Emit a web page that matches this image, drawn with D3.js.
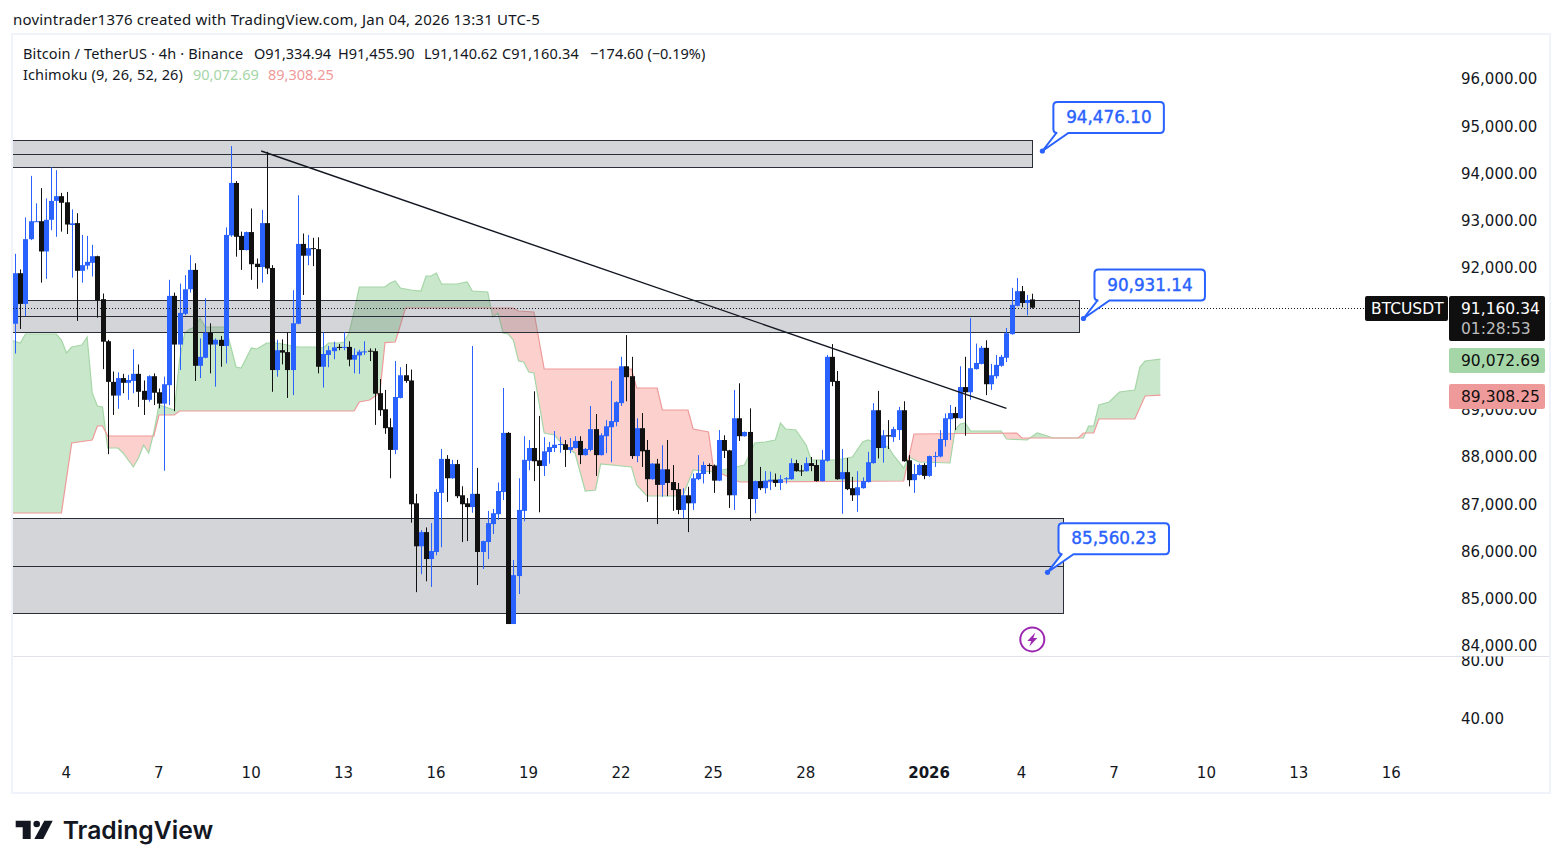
<!DOCTYPE html>
<html>
<head>
<meta charset="utf-8">
<script src="https://cdn.jsdelivr.net/npm/d3@7"></script>
<style>
  html, body { margin: 0; padding: 0; background: #fff; }
  svg { display: block; }
  text { font-family: "DejaVu Sans", sans-serif; fill: #131722; }
  .cond { font-family: "Noto Sans", sans-serif; }
</style>
</head>
<body>
<svg id="chart" width="1563" height="868"></svg>
<script>
// 4h candles, first one sits 10 bars before Dec 4 00:00
const opens = [
  90820,91890,91240,92610,92980,92990,92350,93020,93420,93520,
  93390,92910,92950,91940,92050,92110,92250,91340,90450,89590,
  89300,89670,89570,89610,89760,89400,89210,89710,89370,89130,
  89520,91410,90380,91030,91550,91960,89930,90100,90630,90380,
  90480,90350,92690,93800,92680,92380,92760,92090,92020,92950,
  92000,89840,90260,90220,89840,90820,92510,92260,92420,92400,
  89910,90160,90240,90330,90320,90330,90060,90150,90220,90250,
  90240,89350,89010,88630,88150,89250,89730,89620,87020,86110,
  86410,85840,85990,87240,87960,87550,87850,87190,87020,86940,
  87220,85990,86200,86580,86790,87260,88510,84465,85480,86860,
  87920,88190,87930,87810,88105,88190,88260,88270,88150,88190,
  88340,88040,88150,88590,88040,88440,88630,88740,89140,89920,
  89710,88020,88610,88150,87530,87860,87410,87740,87470,87320,
  86880,87190,87020,87530,87640,87830,87820,87500,88360,88140,
  87190,88820,88440,88530,87110,87490,87340,87480,87520,87450,
  87530,87530,87870,87715,87700,87870,87830,87490,87920,90120,
  89610,87530,87680,87340,87190,87340,87470,87870,88990,88190,
  88460,88420,88570,88990,87930,87510,87620,87830,87600,88010,
  88010,88360,88800,88930,88820,89480,89370,89860,89970,90310,
  89540,89710,89930,90100,90600,91200,91510,91260,91334.94
];
const highs = [
  92300,91970,93070,93950,93370,93690,93470,94130,94070,93590,
  93610,93240,93160,92700,92680,92490,92260,91460,90480,89810,
  89790,89760,89740,90280,89960,89620,89730,89770,89450,89700,
  91750,91480,91670,91850,92270,92100,90510,91360,90830,90510,
  90560,92860,94580,93840,92770,92770,93260,92200,93230,94460,
  92060,90480,90490,90640,91530,93540,92730,92700,92640,92650,
  90640,90350,90440,90390,90640,90450,90300,90270,90450,90300,
  90300,89650,89420,88820,90030,89900,89970,89850,87220,86450,
  86510,86600,87320,88170,88040,87940,87940,87380,87130,90350,
  87770,86230,86860,86900,87460,89460,88530,85820,87550,88440,
  88360,89390,88870,88420,88320,88550,88430,88360,88400,88440,
  88440,88190,89080,88910,88500,88780,89610,89180,90120,90580,
  90120,88820,88930,88360,87870,87960,88250,88360,87830,87450,
  87340,87370,87650,88040,87900,87865,87840,88570,88460,88150,
  89420,89560,88540,89030,87500,87790,87700,87690,87650,87620,
  87575,87970,87940,87830,87990,88000,87940,88150,90160,90390,
  89820,88170,87980,87580,87700,87570,88110,89140,89400,88570,
  88780,88640,89060,89180,88040,87850,87860,87870,88030,88110,
  88570,88920,89100,89060,89920,90120,90940,90400,90350,90470,
  89970,90160,90160,90730,91580,91790,91620,91430,91455.90
];
const lows = [
  90190,90710,90980,92590,92980,91690,91770,92800,92660,92770,
  92720,91795,90880,91690,91970,91820,90950,89860,88060,88890,
  89020,89350,89210,89350,89060,88890,89170,89100,89030,87710,
  89100,88970,89840,91000,91480,89610,89670,90090,89770,89490,
  89910,89980,92660,92240,91960,92370,91750,91560,91690,91870,
  89380,89700,89960,89250,89310,90810,91430,92060,92040,89770,
  89470,89900,90070,90260,90260,89920,89770,89760,90160,90030,
  88680,88870,88490,87550,88060,89240,89570,86610,85140,85520,
  85370,85250,85920,86090,87050,87540,87130,86200,86220,86820,
  85290,85630,85840,86370,86670,87090,84465,84465,85100,86640,
  87720,87490,86830,87600,87860,88105,88090,87790,88080,88180,
  87850,88030,88120,87600,88030,88080,87890,88650,89080,89180,
  87960,87890,87790,87050,87520,86580,87160,87170,86860,86790,
  86710,86410,86880,87510,87440,87640,87240,87490,87980,86920,
  86880,88340,88430,86650,86810,87300,87230,87300,87370,87300,
  87440,87520,87690,87600,87690,87700,87480,87480,87900,89500,
  87520,86800,87300,87070,86840,87330,87460,87860,87970,87880,
  88170,88320,88360,87900,87380,87240,87610,87530,87580,87790,
  87990,88220,88360,88570,88810,88450,89210,89850,89960,89310,
  89420,89660,89910,90010,90590,91190,91170,91000,91140.62
];
const closes = [
  91890,91240,92610,92990,92990,92350,93020,93420,93520,93380,
  92920,92945,91940,92060,92130,92250,91320,90440,89590,89300,
  89670,89570,89630,89760,89380,89210,89710,89360,89130,89540,
  91410,90380,91050,91550,91960,89930,90120,90630,90380,90480,
  90350,92700,93800,92660,92380,92760,92080,92020,92950,91990,
  89840,90260,90210,89840,90830,92510,92260,92420,92410,89910,
  90180,90260,90320,90320,90330,90060,90160,90230,90235,90235,
  89340,88990,88610,88150,89270,89730,89610,87000,86110,86410,
  85840,86010,87260,87960,87550,87850,87170,87000,86940,87220,
  85990,86220,86600,86810,87280,88510,84465,85500,86880,87940,
  88190,87910,87810,88120,88210,88260,88275,88150,88210,88340,
  88040,88170,88590,88040,88460,88650,88760,89160,89920,89690,
  88020,88610,88120,87530,87860,87410,87740,87450,87300,86880,
  87190,87020,87550,87660,87830,87815,87500,88360,88130,87190,
  88820,88440,88530,87110,87490,87340,87500,87520,87450,87530,
  87550,87870,87700,87700,87870,87810,87490,87940,90120,89590,
  87530,87680,87320,87190,87360,87490,87890,88990,88190,88460,
  88435,88590,88990,87910,87510,87640,87830,87600,88020,88020,
  88380,88820,88930,88820,89480,89370,89880,89990,90310,89540,
  89730,89950,90120,90620,91220,91510,91260,91320,91160.34
];

// ichimoku spans, read at the bars where the lines bend
const spanAIdx = [-1,1,2,8,9,10,11,13,14,15,16,17,18,20,21,23,24,25,26,27,28,31,32,33,34,35,36,37,41,42,43,44,46,47,49,51,55,59,60,61,63,64,65,66,67,72,73,74,75,77,79,80,81,82,83,86,88,89,92,93,94,95,96,97,98,99,100,101,103,105,107,109,111,113,114,120,121,123,130,132,136,142,144,146,148,149,150,152,154,155,160,163,165,166,170,171,173,174,176,182,183,184,185,186,192,193,197,199,201,202,207,208,209,210,211,213,215,218,219,220,223];
const spanA = [90476,90413,90603,90603,90476,90201,90328,90370,90540,89355,89079,89058,88190,88190,88085,87788,87979,88254,88085,88529,89101,88995,90053,90624,90709,90751,90942,90751,90751,90328,89905,89884,90307,90286,90413,90413,90328,90328,90307,90413,90413,90434,90624,91080,91598,91598,91683,91725,91577,91534,91513,91831,91831,91894,91661,91661,91704,91513,91492,90963,91048,90624,90603,90476,90032,90011,89799,89778,88508,88466,88212,88085,87280,87302,87852,87788,87407,87175,87175,87725,87683,87831,88296,88318,88360,88720,88593,88571,88254,87937,87937,88000,88318,88360,88212,88042,87767,88000,87894,87873,88571,88699,88720,88550,88550,88381,88360,88508,88444,88402,88402,88402,88656,88656,89101,89164,89376,89418,89905,90032,90072.69];
const spanBIdx = [-1,9,11,15,16,17,18,27,28,31,32,66,67,69,71,72,74,76,97,98,101,103,120,121,125,126,131,132,135,136,141,173,175,195,196,207,208,210,211,218,220,223];
const spanB = [86815,86815,88296,88360,88656,88656,88444,88444,88889,88889,88974,88974,89164,89206,89355,90420,90434,91153,91153,91090,91069,89862,89862,89460,89460,88995,88995,88593,88529,87725,87471,87492,88487,88508,88402,88402,88508,88508,88804,88804,89291,89308.25];

// grey rectangles: top, middle, bottom price and the bar they end on
const boxTops = [94703, 91316, 86703];
const boxMids = [94406, 90978, 85700];
const boxBottoms = [94131, 90635, 84692];
const boxEnds = [198, 207.2, 204];

// trend line end points
const trendIdx = [47.9, 193];
const trendPrice = [94476, 89030];

// price callouts
const calloutIdx = [200, 208, 201];
const calloutPrice = [94476.10, 90931.14, 85560.23];

// 91,000 and 90,000 sit behind the price tags
const priceTicks = [96000,95000,94000,93000,92000,89000,88000,87000,86000,85000,84000];
const lowerTicks = [80, 40];
const dayOffsets = [0,3,6,9,12,15,18,21,24,28,31,34,37,40,43];
const dayLabels = ["4","7","10","13","16","19","22","25","28","2026","4","7","10","13","16"];

const lastPrice = 91160.34;
const spanALast = 90072.69;
const spanBLast = 89308.25;

const svg = d3.select("#chart");
const defs = svg.append("defs");

const x = d3.scaleLinear().domain([0, 198]).range([15.2, 1032.1]);
const y = d3.scaleLinear().domain([96000, 84000]).range([79, 646]);
const yLower = d3.scaleLinear().domain([80, 40]).range([660, 718]);

const blue = "#2962FF";
const black = "#111111";

// frame around the chart
svg.append("rect").attr("x", 12).attr("y", 34).attr("width", 1538).attr("height", 759)
  .attr("fill", "#fff").attr("stroke", "#F0F3FA").attr("stroke-width", 2);

defs.append("clipPath").attr("id", "pane").append("rect")
  .attr("x", 13).attr("y", 36).attr("width", 1352).attr("height", 620);
defs.append("clipPath").attr("id", "lowerPane").append("rect")
  .attr("x", 1380).attr("y", 656.5).attr("width", 170).attr("height", 130);

const pane = svg.append("g").attr("clip-path", "url(#pane)");

// cloud
const aPts = spanAIdx.map((d, i) => [x(d), y(spanA[i])]);
const bPts = spanBIdx.map((d, i) => [x(d), y(spanB[i])]);
const line = d3.line();
const first = bPts[0], last = bPts[bPts.length - 1];
defs.append("clipPath").attr("id", "aboveB").append("path")
  .attr("d", line(bPts) + `L${last[0]},0L${first[0]},0Z`);
defs.append("clipPath").attr("id", "belowB").append("path")
  .attr("d", line(bPts) + `L${last[0]},868L${first[0]},868Z`);

const cloudPath = line(aPts.concat(bPts.slice().reverse())) + "Z";
pane.append("g").attr("clip-path", "url(#aboveB)").append("path")
  .attr("d", cloudPath).attr("fill", "rgba(76,175,80,0.3)").attr("fill-rule", "evenodd");
pane.append("g").attr("clip-path", "url(#belowB)").append("path")
  .attr("d", cloudPath).attr("fill", "rgba(244,67,54,0.25)").attr("fill-rule", "evenodd");
pane.append("path").attr("d", line(aPts)).attr("fill", "none").attr("stroke", "#A5D6A7").attr("stroke-width", 1.2);
pane.append("path").attr("d", line(bPts)).attr("fill", "none").attr("stroke", "#EF9A9A").attr("stroke-width", 1.2);

// grey rectangles
const snap = v => Math.round(v) + 0.5;
boxTops.forEach((top, i) => {
  const x0 = 0, x1 = snap(x(boxEnds[i]));
  const y0 = snap(y(top)), y1 = snap(y(boxBottoms[i])), ym = snap(y(boxMids[i]));
  pane.append("rect").attr("x", x0).attr("y", y0).attr("width", x1 - x0).attr("height", y1 - y0)
    .attr("fill", "rgba(120,123,134,0.32)").attr("stroke", "#2A2E39").attr("stroke-width", 1);
  pane.append("line").attr("x1", x0).attr("x2", x1).attr("y1", ym).attr("y2", ym)
    .attr("stroke", "#2A2E39").attr("stroke-width", 1);
});

// last price dotted line
svg.append("line").attr("x1", 13).attr("x2", 1365).attr("y1", snap(y(lastPrice))).attr("y2", snap(y(lastPrice)))
  .attr("stroke", "#131722").attr("stroke-width", 1).attr("stroke-dasharray", "1,2");

// candles
const candles = pane.append("g").selectAll("g").data(opens).join("g");
candles.each(function(o, i) {
  const g = d3.select(this);
  const c = closes[i];
  const col = c >= o ? blue : black;
  const cx = Math.round(x(i));
  g.append("rect").attr("x", cx).attr("width", 1)
    .attr("y", y(highs[i])).attr("height", y(lows[i]) - y(highs[i])).attr("fill", col);
  const top = y(Math.max(o, c));
  g.append("rect").attr("x", cx - 2).attr("width", 5)
    .attr("y", top).attr("height", Math.max(1, y(Math.min(o, c)) - top)).attr("fill", col);
});

// trend line
pane.append("line")
  .attr("x1", x(trendIdx[0])).attr("y1", y(trendPrice[0]))
  .attr("x2", x(trendIdx[1])).attr("y2", y(trendPrice[1]))
  .attr("stroke", "#131722").attr("stroke-width", 1.4);

// callouts
const fmt = d3.format(",.2f");
calloutPrice.forEach((p, i) => {
  const ax = x(calloutIdx[i]), ay = y(p);
  const l = ax + 11, t = ay - 49, r = l + 110.5, b = t + 31, rad = 4;
  const d = `M${l + rad},${t}H${r - rad}Q${r},${t} ${r},${t + rad}V${b - rad}Q${r},${b} ${r - rad},${b}` +
    `H${l + 15}L${ax},${ay}L${l + 3},${b}H${l + rad}Q${l},${b} ${l},${b - rad}V${t + rad}Q${l},${t} ${l + rad},${t}Z`;
  svg.append("path").attr("d", d).attr("fill", "#fff").attr("stroke", blue).attr("stroke-width", 2);
  svg.append("circle").attr("cx", ax).attr("cy", ay).attr("r", 2.6).attr("fill", blue);
  svg.append("text").attr("x", l + 55.5).attr("y", t + 21).attr("text-anchor", "middle")
    .style("fill", blue).style("stroke", blue).style("stroke-width", 0.4)
    .style("font-size", "16.8px").text(fmt(p));
});

// lightning badge
const badge = svg.append("g").attr("transform", "translate(1032.3,639.4)");
badge.append("circle").attr("r", 12).attr("fill", "#fff").attr("stroke", "#9C27B0").attr("stroke-width", 2);
badge.append("path").attr("d", "M3,-7L-5,1.5H-1L-3,7L5,-1.5H1Z").attr("fill", "#9C27B0");

// pane separator
svg.append("line").attr("x1", 13).attr("x2", 1549).attr("y1", 656.5).attr("y2", 656.5)
  .attr("stroke", "#E0E3EB").attr("stroke-width", 1);

// price axis
const axisFont = g => {
  g.select(".domain").remove();
  g.selectAll(".tick line").remove();
  g.selectAll("text").style("font-size", "15px").style("font-family", '"DejaVu Sans", sans-serif').style("fill", "#131722");
};
svg.append("g").attr("transform", "translate(1461,0)")
  .call(d3.axisRight(y).tickValues(priceTicks).tickSize(0).tickPadding(0).tickFormat(fmt))
  .call(axisFont);
svg.append("g").attr("clip-path", "url(#lowerPane)").append("g").attr("transform", "translate(1461,1)")
  .call(d3.axisRight(yLower).tickValues(lowerTicks).tickSize(0).tickPadding(0).tickFormat(fmt))
  .call(axisFont);

// time axis
const dayIdx = dayOffsets.map(d => 10 + d * 6);
svg.append("g").attr("transform", "translate(-0.8,760)")
  .call(d3.axisBottom(x).tickValues(dayIdx).tickSize(0).tickPadding(0).tickFormat((d, i) => dayLabels[i]))
  .call(axisFont)
  .selectAll("text").attr("y", 7)
  .style("font-weight", (d, i) => dayLabels[i] === "2026" ? 700 : 400);

// price tags
function tag(x0, y0, w, h, fill) {
  svg.append("rect").attr("x", x0).attr("y", y0).attr("width", w).attr("height", h).attr("rx", 2).attr("fill", fill);
}
function tagText(str, tx, ty, fill, weight) {
  svg.append("text").attr("x", tx).attr("y", ty).style("fill", fill).style("font-size", "15.5px")
    .style("font-weight", weight || 400).text(str);
}
tag(1365, 296, 83, 25, "#0F0F0F");
tag(1449, 296, 96, 45, "#0F0F0F");
tag(1449, 348, 96, 25, "#A5D6A7");
tag(1449, 384, 96, 25, "#EF9A9A");
tagText("BTCUSDT", 1371, 314, "#fff");
tagText(fmt(lastPrice), 1461, 313.5, "#fff");
tagText("01:28:53", 1461, 333.5, "#BDBDBD");
tagText(fmt(spanALast), 1461, 366, "#0F0F0F");
tagText(fmt(spanBLast), 1461, 402, "#0F0F0F");

// header and legend
function label(str, lx, ly, fill, size, spacing) {
  return svg.append("text").attr("class", "cond").attr("x", lx).attr("y", ly)
    .style("font-size", (size || 14.5) + "px").style("letter-spacing", (spacing || 0) + "px")
    .style("fill", fill || "#131722").text(str);
}
label("novintrader1376 created with TradingView.com, Jan 04, 2026 13:31 UTC-5", 13, 25, null, 15, 0.2);
label("Bitcoin / TetherUS · 4h · Binance", 23, 59, null, 14.5, 0.12);
label("O91,334.94", 254, 59);
label("H91,455.90", 338, 59);
label("L91,140.62", 424, 59);
label("C91,160.34", 502, 59, null, 14.5, 0.2);
label("−174.60 (−0.19%)", 590, 59);
label("Ichimoku (9, 26, 52, 26)", 23, 80, null, 14.5, 0.12);
label(fmt(spanALast), 193, 80, "#A5D6A7");
label(fmt(spanBLast), 268, 80, "#EF9A9A");

// TradingView logo
const logo = svg.append("g").attr("fill", "#131722");
logo.append("path").attr("d", "M15.7,820.7H30.7V839H22.7V827.3H15.7Z");
logo.append("circle").attr("cx", 36.7).attr("cy", 824).attr("r", 3.3);
logo.append("path").attr("d", "M44.3,820.7H52.7L43.3,839H34.3Z");
svg.append("text").attr("x", 62.7).attr("y", 839)
  .style("font-family", "Inter, sans-serif").style("font-size", "24.7px").style("font-weight", 600)
  .style("fill", "#131722").text("TradingView");
</script>
</body>
</html>
